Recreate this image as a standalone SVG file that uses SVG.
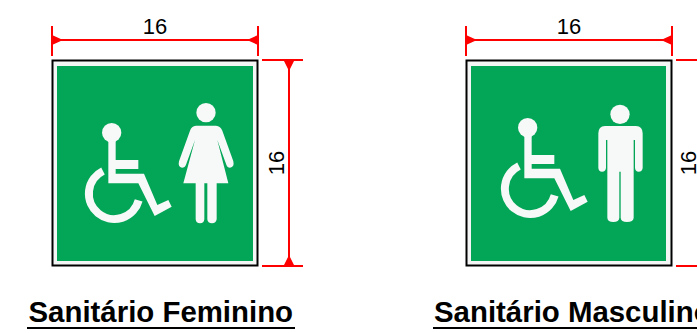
<svg xmlns="http://www.w3.org/2000/svg" width="697" height="333" viewBox="0 0 697 333">
<style>
.frame{fill:#f4f6f5;stroke:#000;stroke-width:2}
.green{fill:#03a657}
.w{fill:#f7f8f8}
.ws{fill:none;stroke:#f7f8f8;stroke-width:24}
.dim{stroke:#f00;stroke-width:2;fill:none}
.arr{fill:#f00}
.t{font-family:"Liberation Sans",Arial,sans-serif;font-size:22px;fill:#000;text-anchor:middle}
.title{font-family:"Liberation Sans",Arial,sans-serif;font-size:29.400px;font-weight:bold;fill:#000}
.rule{stroke:#000;stroke-width:2}
</style>
<defs>
<g id="chair">
<circle class="w" cx="125" cy="128" r="29"/>
<path class="w" d="M115 140H137V210H205V237H137V251H222L262 345L295 330L305 350L254 378L205 280H115Z"/>
<path class="ws" d="M99 243A76 76 0 1 0 206 331"/>
</g>
</defs>
<g id="sign-feminino">
<rect class="frame" x="52.500" y="60.500" width="205" height="205"/>
<rect class="green" x="57" y="66" width="196" height="195"/>
<g transform="translate(70 90) scale(.33333)">
<use href="#chair"/>
<circle class="w" cx="408" cy="68" r="29"/>
<path class="w" d="M378 107H438Q452 108 457 122L490 214Q494 232 480 233Q472 233 469 224L442 150L475 280H440V388Q438 400 426 400Q413 400 412 388V280H403V388Q402 400 390 400Q378 400 377 388V280H340L375 150L348 224Q345 233 336 233Q323 232 327 214L360 122Q364 108 378 107Z"/>
</g>
</g>
<g id="sign-masculino">
<rect class="frame" x="466.500" y="60.500" width="205" height="205"/>
<rect class="green" x="471" y="66" width="195" height="195"/>
<g transform="translate(490 90) scale(.33333)">
<use href="#chair" transform="translate(-12 -15)"/>
<circle class="w" cx="390" cy="73" r="29"/>
<path class="w" d="M345 108H438Q458 109 458 130V234Q457 245 446 245Q436 245 435 234V150H431V383Q430 396 411 396Q393 396 392 383V245H388V383Q387 396 370 396Q353 396 352 383V150H348V234Q347 245 336 245Q326 245 325 234V130Q325 109 345 108Z"/>
</g>
</g>
<g id="connectors">
<path class="dim" d="M52 26V56M258 26V56M52 40H258M262 60H303M262 266H303M289 60V266"/>
<path class="arr" d="M52 35L63 40L52 45ZM258 35L247 40L258 45ZM283.500 60H294.500L289 71ZM283.500 266H294.500L289 255Z"/>
<path class="dim" d="M466 26V56M672 26V56M466 40H672M676 60H697M676 266H697"/>
<path class="arr" d="M466 35L477 40L466 45ZM672 35L661 40L672 45Z"/>
</g>
<g id="labels">
<text class="t" x="155" y="34">16</text>
<text class="t" x="569" y="34">16</text>
<text class="t" transform="translate(284 163) rotate(-90)">16</text>
<text class="t" transform="translate(696 163) rotate(-90)">16</text>
<text class="title" x="28.500" y="322">Sanitário Feminino</text>
<line class="rule" x1="27" y1="328" x2="295" y2="328"/>
<text class="title" x="434" y="322">Sanitário Masculino</text>
<line class="rule" x1="433" y1="328" x2="697" y2="328"/>
</g>
</svg>
